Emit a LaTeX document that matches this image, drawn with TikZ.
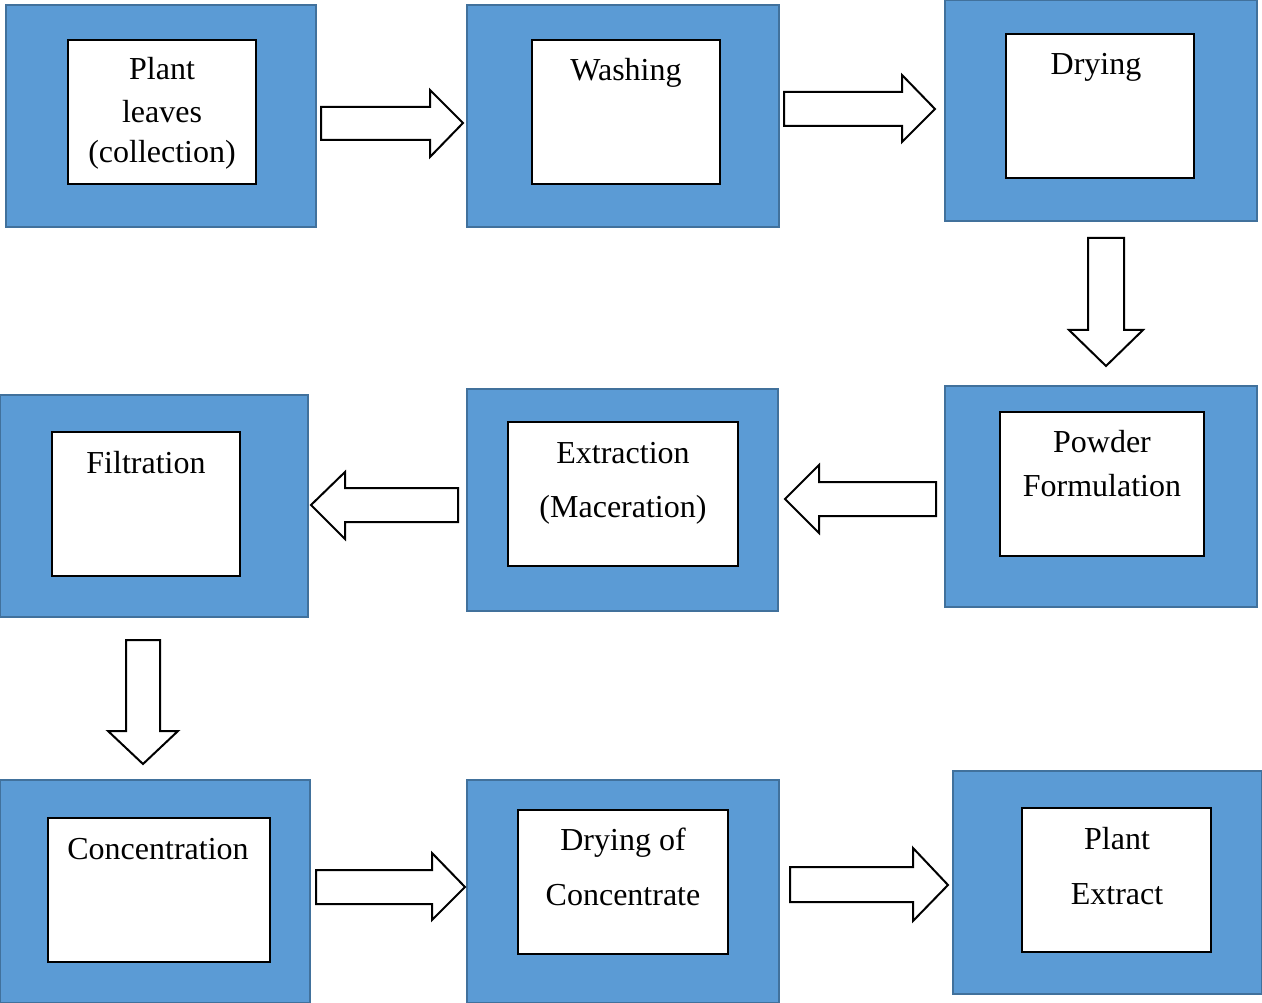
\documentclass[tikz,border=0pt]{standalone}
\usepackage{fontspec}
\setmainfont{Liberation Serif}
\definecolor{boxfill}{HTML}{5B9BD5}
\definecolor{boxline}{HTML}{41719C}
\begin{document}
\begin{tikzpicture}[x=1pt,y=-1pt,
  outer/.style={draw=boxline,fill=boxfill,line width=2pt},
  innerbox/.style={draw=black,fill=white,line width=1.6pt},
  lbl/.style={anchor=base,inner sep=0pt,font=\fontsize{32}{38}\selectfont},
  barrow/.style={draw=black,fill=white,line width=2pt,line join=miter}]
\useasboundingbox (0,0) rectangle (1262,1003);
% stage 1
\draw[outer] (6,5) rectangle (316,227);
\draw[innerbox] (68,40) rectangle (256,184);
\node[lbl] (t1a) at (162,80) {Plant};
\node[lbl] (t1b) at (162,123) {leaves};
\node[lbl] (t1c) at (162,163) {(collection)};
% stage 2
\draw[outer] (467,5) rectangle (779,227);
\draw[innerbox] (532,40) rectangle (720,184);
\node[lbl] (t2) at (626,81) {Washing};
% stage 3
\draw[outer] (945,0) rectangle (1257,221);
\draw[innerbox] (1006,34) rectangle (1194,178);
\node[lbl] (t3) at (1096,75) {Drying};
% stage 4
\draw[outer] (945,386) rectangle (1257,607);
\draw[innerbox] (1000,412) rectangle (1204,556);
\node[lbl] (t4a) at (1102,452) {Powder};
\node[lbl] (t4b) at (1102,496) {Formulation};
% stage 5
\draw[outer] (467,389) rectangle (778,611);
\draw[innerbox] (508,422) rectangle (738,566);
\node[lbl] (t5a) at (623,463) {Extraction};
\node[lbl] (t5b) at (623,517) {(Maceration)};
% stage 6
\draw[outer] (0,395) rectangle (308,617);
\draw[innerbox] (52,432) rectangle (240,576);
\node[lbl] (t6) at (146,473) {Filtration};
% stage 7
\draw[outer] (0,780) rectangle (310,1003);
\draw[innerbox] (48,818) rectangle (270,962);
\node[lbl] (t7) at (158,859) {Concentration};
% stage 8
\draw[outer] (467,780) rectangle (779,1003);
\draw[innerbox] (518,810) rectangle (728,954);
\node[lbl] (t8a) at (623,850) {Drying of};
\node[lbl] (t8b) at (623,905) {Concentrate};
% stage 9
\draw[outer] (953,771) rectangle (1262,994);
\draw[innerbox] (1022,808) rectangle (1211,952);
\node[lbl] (t9a) at (1117,849) {Plant};
\node[lbl] (t9b) at (1117,904) {Extract};
% block arrows
\draw[barrow] (321,107)--(430,107)--(430,90)--(463,123)--(430,157)--(430,140)--(321,140)--cycle;
\draw[barrow] (784,92)--(902,92)--(902,75)--(935,109)--(902,142)--(902,126)--(784,126)--cycle;
\draw[barrow] (1088,238)--(1124,238)--(1124,330)--(1143,330)--(1106,366)--(1069,330)--(1088,330)--cycle;
\draw[barrow] (936,482)--(819,482)--(819,465)--(785,499)--(819,533)--(819,516)--(936,516)--cycle;
\draw[barrow] (458,488)--(345,488)--(345,472)--(311,505)--(345,539)--(345,522)--(458,522)--cycle;
\draw[barrow] (126,640)--(160,640)--(160,731)--(178,731)--(143,764)--(108,731)--(126,731)--cycle;
\draw[barrow] (316,870)--(432,870)--(432,853)--(465,887)--(432,920)--(432,904)--(316,904)--cycle;
\draw[barrow] (790,867)--(913,867)--(913,848)--(948,885)--(913,921)--(913,902)--(790,902)--cycle;
\end{tikzpicture}
\end{document}
